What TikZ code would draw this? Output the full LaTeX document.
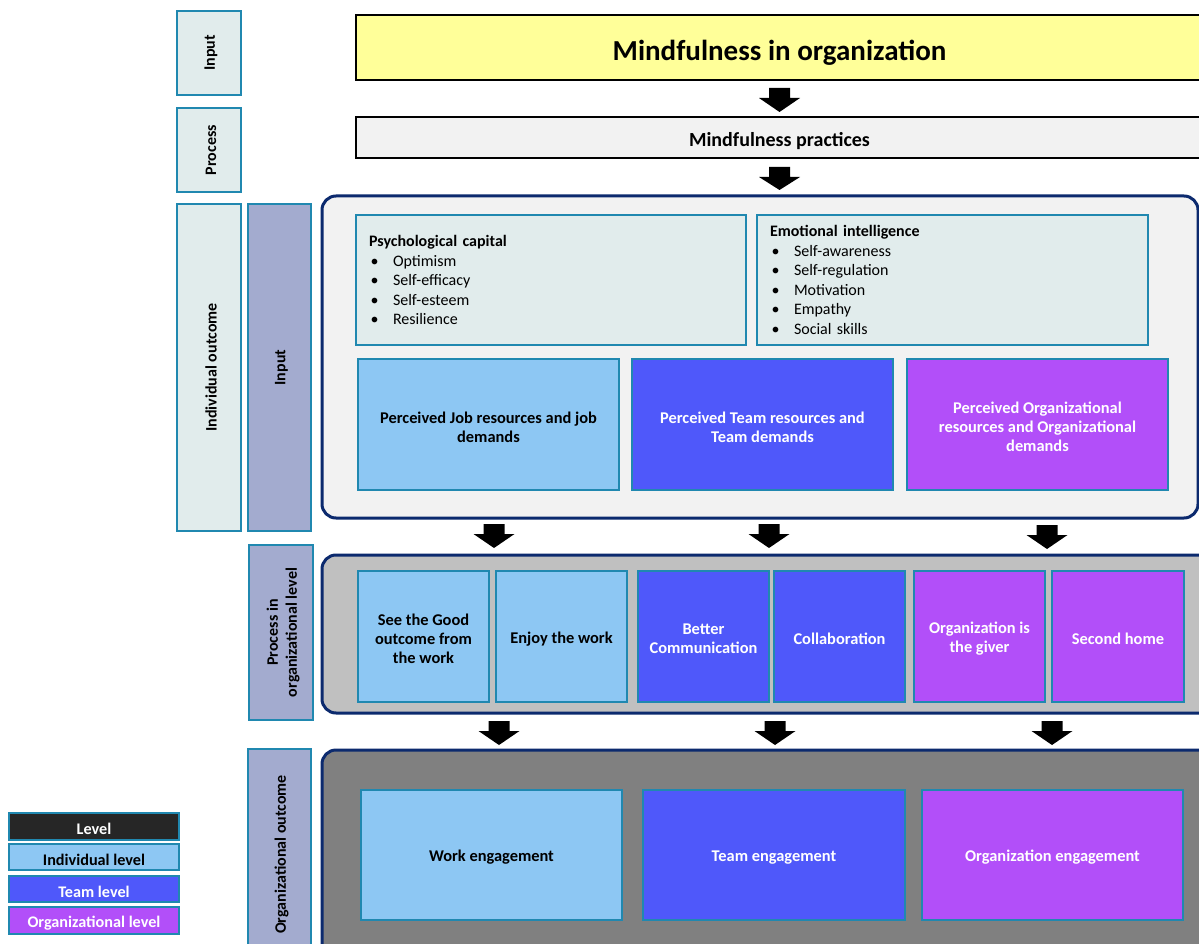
\documentclass[tikz,border=0pt]{standalone}
\usepackage{fontspec}
\setmainfont{Carlito}
\definecolor{tealb}{HTML}{2088B0}
\definecolor{lblfill}{HTML}{E1ECEC}
\definecolor{lbldark}{HTML}{A3ABCF}
\definecolor{lblue}{HTML}{8DC7F3}
\definecolor{tblue}{HTML}{4F58FA}
\definecolor{opurple}{HTML}{B24FF9}
\definecolor{navy}{HTML}{0C2A6E}
\definecolor{ylw}{HTML}{FFFF99}
\definecolor{lgray}{HTML}{F2F2F2}
\definecolor{mgray}{HTML}{C0C0C0}
\definecolor{dgray}{HTML}{808080}
\definecolor{blk}{HTML}{262626}
\newcommand\bx[7]{\node[#6,minimum width={(#4)-(#2)},minimum height={(#5)-(#3)}] (#1) at ({((#2)+(#4))/2},{((#3)+(#5))/2}) {};
  \node[#6,draw=none,fill=none] (#1t) at ({((#2)+(#4))/2},{((#3)+(#5))/2+2.5}) {#7};}
\newcommand\vbx[7]{\node[#6,rotate=90,minimum width={(#5)-(#3)},minimum height={(#4)-(#2)}] (#1) at ({((#2)+(#4))/2},{((#3)+(#5))/2}) {};
  \node[#6,rotate=90,draw=none,fill=none] (#1t) at ({((#2)+(#4))/2+2},{((#3)+(#5))/2}) {#7};}
\newcommand\barrow[3]{\fill[black] ({#1-10.5},#2) -- ({#1+10.5},#2) -- ({#1+10.5},{#2+10}) -- ({#1+20.5},{#2+10}) -- (#1,#3) -- ({#1-20.5},{#2+10}) -- ({#1-10.5},{#2+10}) -- cycle;}
\newcommand\itm[1]{\makebox[24pt][l]{\hspace{1.5pt}•}#1}
\begin{document}
\begin{tikzpicture}[x=1pt,y=-1pt,
  every node/.style={inner sep=0pt,outer sep=0pt},
  lbl/.style={draw=tealb,line width=2pt,fill=lblfill,font=\bfseries\fontsize{16}{19}\selectfont,align=center},
  lbld/.style={lbl,fill=lbldark},
  ib/.style={draw=tealb,line width=2pt,fill=lblue,text=black,font=\bfseries\fontsize{16.4}{19.2}\selectfont,align=center},
  tb/.style={ib,fill=tblue,text=white},
  ob/.style={ib,fill=opurple,text=white},
  listbox/.style={draw=tealb,line width=2pt,fill=lblfill,font=\fontsize{16}{19.5}\selectfont,align=left,inner xsep=13pt},
  cont/.style={draw=navy,line width=3pt,rounded corners=14pt},
  topbox/.style={draw=black,line width=2.5pt},
  leg/.style={draw=tealb,line width=2pt,font=\bfseries\fontsize{16.2}{19}\selectfont}
]
\clip (0,0) rectangle (1199,944);
\fill[white] (0,0) rectangle (1199,944);

% left labels
\vbx{lin}{177}{11}{241}{95}{lbl}{Input}
\vbx{lpr}{177}{108}{241}{192}{lbl}{Process}
\vbx{lio}{177}{204}{241}{531}{lbl}{Individual outcome}
\vbx{lin2}{248}{204}{311}{531}{lbld}{Input}
\vbx{lpo}{249}{545}{313}{720}{lbld}{Process in\\organizational level}
\vbx{loo}{248}{749}{311}{960}{lbld}{Organizational outcome}

% top boxes
\bx{mio}{356}{15}{1230}{80}{topbox,fill=ylw}{}
\node[font=\bfseries\fontsize{29}{34}\selectfont] (miot) at (779.5,52.5) {Mindfulness in organization};
\bx{mp}{356}{117}{1230}{158}{topbox,fill=lgray}{}
\node[font=\bfseries\fontsize{20}{24}\selectfont] (mpt) at (779.5,141.5) {Mindfulness practices};

\barrow{779.5}{88}{112}
\barrow{779.5}{167}{190}

% container 1
\draw[cont,fill=lgray] (322,196) rectangle (1198,518);
\node[listbox,text width=364pt,minimum height=130pt] (pc) at (551,280) {\textbf{Psychological capital}\\\itm{Optimism}\\\itm{Self-efficacy}\\\itm{Self-esteem}\\\itm{Resilience}};
\node[listbox,text width=365pt,minimum height=130pt] (ei) at (952.5,280) {\textbf{Emotional intelligence}\\\itm{Self-awareness}\\\itm{Self-regulation}\\\itm{Motivation}\\\itm{Empathy}\\\itm{Social skills}};
\bx{pj}{358}{359}{619}{490}{ib}{Perceived Job resources and job\\demands}
\bx{pt}{632}{359}{893}{490}{tb}{Perceived Team resources and\\Team demands}
\bx{po}{907}{359}{1168}{490}{ob}{Perceived Organizational\\resources and Organizational\\demands}

\barrow{494}{524}{548}
\barrow{769}{524}{548}
\barrow{1047}{525}{549}

% container 2
\draw[cont,fill=mgray] (322,555) rectangle (1240,713);
\bx{sg}{358}{571}{489}{702}{ib}{See the Good\\outcome from\\the work}
\bx{ew}{496}{571}{627}{702}{ib}{Enjoy the work}
\bx{bc}{638}{571}{769}{702}{tb}{Better\\Communication}
\bx{co}{774}{571}{905}{702}{tb}{Collaboration}
\bx{og}{914}{571}{1045}{702}{ob}{Organization is\\the giver}
\bx{sh}{1052}{571}{1184}{702}{ob}{Second home}

\barrow{499}{721}{745}
\barrow{775}{721}{745}
\barrow{1052}{721}{745}

% container 3
\draw[cont,fill=dgray] (322,750) rectangle (1240,990);
\bx{we}{361}{790}{622}{920}{ib}{Work engagement}
\bx{te}{643}{790}{905}{920}{tb}{Team engagement}
\bx{oe}{922}{790}{1183}{920}{ob}{Organization engagement}

% legend
\bx{lv}{9}{813}{179}{840}{leg,fill=blk,text=white}{Level}
\bx{li}{9}{844}{179}{870}{leg,fill=lblue,text=black}{Individual level}
\bx{lt}{9}{876}{179}{902}{leg,fill=tblue,text=white}{Team level}
\bx{lo}{9}{907}{179}{934}{leg,fill=opurple,text=white}{Organizational level}
\end{tikzpicture}
\end{document}
